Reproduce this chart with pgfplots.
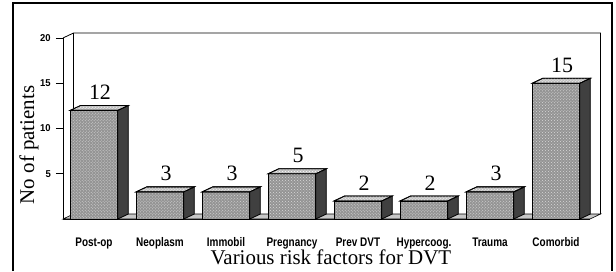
\documentclass[border=0pt]{standalone}
\usepackage{pgfplots}
\pgfplotsset{compat=1.18}
\usepackage{fontspec}
\setmainfont{Liberation Serif}
\newfontfamily\condfont[FakeStretch=0.8]{Liberation Sans}
\newfontfamily\tickfont[FakeStretch=0.95]{Liberation Sans}
\usetikzlibrary{patterns}
\begin{document}
\begin{tikzpicture}
\begin{axis}[
  x=66bp, y=9.05bp,
  xmin=-0.47, xmax=7.515, ymin=0, ymax=20,
  axis x line=bottom, axis y line=left,
  axis line style={-, black, line width=0.8bp},
  clip=false,
  /pgf/number format/assume math mode=true,
  xtick={0,...,7},
  xticklabels={Post-op,Neoplasm,Immobil,Pregnancy,Prev DVT,Hypercoog.,Trauma,Comorbid},
  x tick style={draw=none},
  xticklabel style={font=\condfont\bfseries\fontsize{12.5}{14}\selectfont, anchor=base, yshift=-20bp, inner sep=0pt},
  ytick={5,10,15,20},
  tick align=outside,
  y tick style={black, line width=0.8bp},
  major tick length=7bp,
  yticklabel style={font=\tickfont\bfseries\fontsize{10}{11}\selectfont, anchor=east, inner sep=0pt, xshift=-5bp},
]
% walls and floor
\fill[white] (axis cs:-0.31,0.55) rectangle (axis cs:7.675,20.55);
\draw[black, line width=0.8bp] (axis cs:-0.47,20) -- (axis cs:-0.31,20.55) -- (axis cs:7.675,20.55) -- (axis cs:7.675,0.55);
\draw[black, line width=0.6bp] (axis cs:-0.31,20.55) -- (axis cs:-0.31,0.55);
\filldraw[fill=black!22, draw=black, line width=0.6bp] (axis cs:-0.47,0) -- (axis cs:-0.31,0.55) -- (axis cs:7.675,0.55) -- (axis cs:7.515,0) -- cycle;
% front faces
\addplot[ybar, bar width=0.72, fill=black!42, draw=black, line width=0.8bp,
  postaction={pattern=crosshatch dots, pattern color=white!85!black},
  nodes near coords,
  nodes near coords style={font=\fontsize{22}{24}\selectfont, anchor=south, xshift=6bp, yshift=7bp}]
  coordinates {(0,12) (1,3) (2,3) (3,5) (4,2) (5,2) (6,3) (7,15)};
% side faces
\addplot[fill=black!75, draw=black, line width=0.8bp] coordinates {(0.36,0) (0.52,0.55) (0.52,12.55) (0.36,12)} --cycle;
\addplot[fill=black!75, draw=black, line width=0.8bp] coordinates {(1.36,0) (1.52,0.55) (1.52,3.55) (1.36,3)} --cycle;
\addplot[fill=black!75, draw=black, line width=0.8bp] coordinates {(2.36,0) (2.52,0.55) (2.52,3.55) (2.36,3)} --cycle;
\addplot[fill=black!75, draw=black, line width=0.8bp] coordinates {(3.36,0) (3.52,0.55) (3.52,5.55) (3.36,5)} --cycle;
\addplot[fill=black!75, draw=black, line width=0.8bp] coordinates {(4.36,0) (4.52,0.55) (4.52,2.55) (4.36,2)} --cycle;
\addplot[fill=black!75, draw=black, line width=0.8bp] coordinates {(5.36,0) (5.52,0.55) (5.52,2.55) (5.36,2)} --cycle;
\addplot[fill=black!75, draw=black, line width=0.8bp] coordinates {(6.36,0) (6.52,0.55) (6.52,3.55) (6.36,3)} --cycle;
\addplot[fill=black!75, draw=black, line width=0.8bp] coordinates {(7.36,0) (7.52,0.55) (7.52,15.55) (7.36,15)} --cycle;
% top faces
\addplot[fill=black!25, draw=black, line width=0.8bp, postaction={pattern=crosshatch dots, pattern color=white}] coordinates {(-0.36,12) (-0.20,12.55) (0.52,12.55) (0.36,12)} --cycle;
\addplot[fill=black!25, draw=black, line width=0.8bp, postaction={pattern=crosshatch dots, pattern color=white}] coordinates {(0.64,3) (0.80,3.55) (1.52,3.55) (1.36,3)} --cycle;
\addplot[fill=black!25, draw=black, line width=0.8bp, postaction={pattern=crosshatch dots, pattern color=white}] coordinates {(1.64,3) (1.80,3.55) (2.52,3.55) (2.36,3)} --cycle;
\addplot[fill=black!25, draw=black, line width=0.8bp, postaction={pattern=crosshatch dots, pattern color=white}] coordinates {(2.64,5) (2.80,5.55) (3.52,5.55) (3.36,5)} --cycle;
\addplot[fill=black!25, draw=black, line width=0.8bp, postaction={pattern=crosshatch dots, pattern color=white}] coordinates {(3.64,2) (3.80,2.55) (4.52,2.55) (4.36,2)} --cycle;
\addplot[fill=black!25, draw=black, line width=0.8bp, postaction={pattern=crosshatch dots, pattern color=white}] coordinates {(4.64,2) (4.80,2.55) (5.52,2.55) (5.36,2)} --cycle;
\addplot[fill=black!25, draw=black, line width=0.8bp, postaction={pattern=crosshatch dots, pattern color=white}] coordinates {(5.64,3) (5.80,3.55) (6.52,3.55) (6.36,3)} --cycle;
\addplot[fill=black!25, draw=black, line width=0.8bp, postaction={pattern=crosshatch dots, pattern color=white}] coordinates {(6.64,15) (6.80,15.55) (7.52,15.55) (7.36,15)} --cycle;
% titles
\node[rotate=90, font=\fontsize{21}{24}\selectfont] at (axis cs:-0.985,8.18) {No of patients};
\node[font=\fontsize{21}{24}\selectfont] at (axis cs:3.59,-4.25) {Various risk factors for DVT};
% frame and picture extent
\draw[line width=1.2bp] (axis cs:-1.227,-5.746) -- (axis cs:-1.227,23.87) -- (axis cs:7.848,23.87) -- (axis cs:7.848,-5.746);
\path (axis cs:-1.424,-5.746) rectangle (axis cs:7.909,24.199);
\end{axis}
\end{tikzpicture}
\end{document}
